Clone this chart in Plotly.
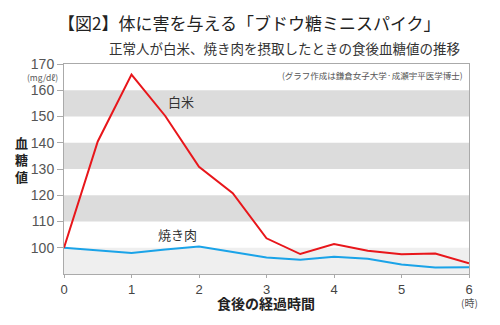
import plotly.graph_objects as go

hours = [0, 0.5, 1, 1.5, 2, 2.5, 3, 3.5, 4, 4.5, 5, 5.5, 6]
rice = [100, 140.5, 166, 150.2, 130.8, 120.8, 103.6, 97.6, 101.4, 98.9, 97.5, 97.8, 94.1]
meat = [100, 99.1, 98, 99.3, 100.5, 98.4, 96.3, 95.4, 96.6, 95.8, 93.6, 92.5, 92.6]
y_ticks = [100, 110, 120, 130, 140, 150, 160, 170]
x_ticks = [0, 1, 2, 3, 4, 5, 6]
dark_bands = [(110, 120), (130, 140), (150, 160)]
light_bands = [(90, 100)]

JP = "Noto Sans CJK JP"
NUM = "Liberation Sans, Arial, sans-serif"

fig = go.Figure()
fig.add_trace(go.Scatter(x=hours, y=meat, mode="lines", line=dict(color="#1aa3e8", width=2), showlegend=False))
fig.add_trace(go.Scatter(x=hours, y=rice, mode="lines", line=dict(color="#e8161b", width=2), showlegend=False))

shapes = []
for lo, hi in dark_bands:
    shapes.append(dict(type="rect", xref="paper", yref="y", x0=0, x1=1, y0=lo, y1=hi,
                       fillcolor="#dcdcdc", line=dict(width=0), layer="below"))
for lo, hi in light_bands:
    shapes.append(dict(type="rect", xref="paper", yref="y", x0=0, x1=1, y0=lo, y1=hi,
                       fillcolor="#efefef", line=dict(width=0), layer="below"))

annotations = [
    dict(text="【図2】体に害を与える「ブドウ糖ミニスパイク」", xref="paper", yref="paper",
         x=0.459, y=1.2, xanchor="center", yanchor="middle", showarrow=False,
         font=dict(family=JP, size=17, color="#222")),
    dict(text="正常人が白米、焼き肉を摂取したときの食後血糖値の推移", xref="paper", yref="paper",
         x=0.983, y=1.076, xanchor="right", yanchor="middle", showarrow=False,
         font=dict(family=JP, size=13.5, color="#333")),
    dict(text="(グラフ作成は鎌倉女子大学·成瀬宇平医学博士)", x=5.94, y=165.8, xanchor="right",
         yanchor="middle", showarrow=False, font=dict(family=JP, size=8.5, color="#555")),
    dict(text="白米", x=1.73, y=155.6, showarrow=False, font=dict(family=JP, size=13, color="#333")),
    dict(text="焼き肉", x=1.68, y=105.2, showarrow=False, font=dict(family=JP, size=13, color="#333")),
    dict(text="(mg/dℓ)", xref="paper", yref="paper", x=-0.054, y=0.936, xanchor="center",
         yanchor="middle", showarrow=False, font=dict(family=JP, size=8.5, color="#555")),
    dict(text="<b>血<br>糖<br>値</b>", xref="paper", yref="paper", x=-0.104, y=0.543, xanchor="center",
         yanchor="middle", showarrow=False, font=dict(family=JP, size=13, color="#222")),
    dict(text="<b>食後の経過時間</b>", xref="paper", yref="paper", x=0.499, y=-0.14, xanchor="center",
         yanchor="middle", showarrow=False, font=dict(family=JP, size=14, color="#222")),
    dict(text="(時)", xref="paper", yref="paper", x=1.0, y=-0.135, xanchor="center",
         yanchor="middle", showarrow=False, font=dict(family=JP, size=10, color="#555")),
]

fig.update_layout(
    width=500, height=325,
    margin=dict(l=64, r=31, t=64, b=51),
    paper_bgcolor="white", plot_bgcolor="white",
    shapes=shapes, annotations=annotations,
    xaxis=dict(range=[0, 6], tickvals=x_ticks, ticks="outside", ticklen=3, tickcolor="#aaa",
               showline=True, linecolor="#aaa", linewidth=1, mirror=True, showgrid=False,
               zeroline=False, tickfont=dict(family=NUM, size=13, color="#444")),
    yaxis=dict(range=[90, 170], tickvals=y_ticks, ticks="outside", ticklen=6, tickcolor="#aaa",
               showline=True, linecolor="#aaa", linewidth=1, mirror=True, showgrid=False,
               zeroline=False, tickfont=dict(family=NUM, size=14, color="#555")),
)

fig.write_html("out.html")
